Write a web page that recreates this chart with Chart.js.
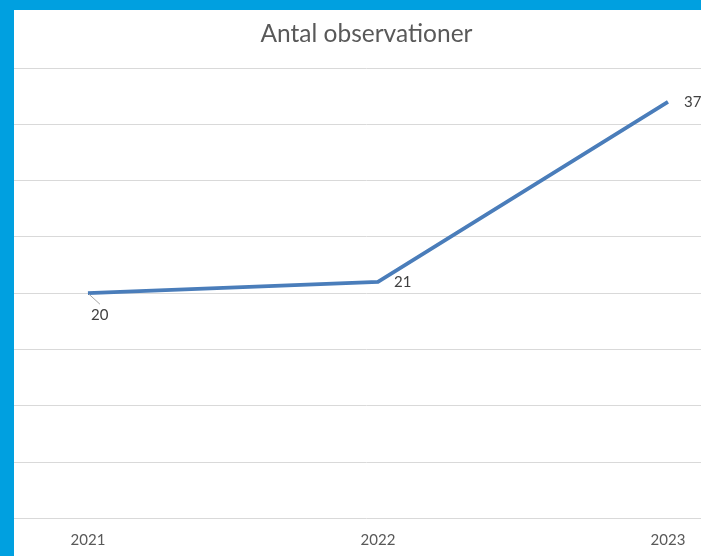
<!DOCTYPE html>
<html>
<head>
<meta charset="utf-8">
<script src="https://cdn.jsdelivr.net/npm/chart.js@4/dist/chart.umd.min.js"></script>
<style>
  html, body { margin: 0; padding: 0; width: 701px; height: 556px; overflow: hidden; background: #00A0E0; }
  #wrap { position: absolute; left: 14px; top: 10px; width: 705px; height: 559px; background: #ffffff; }
  canvas { display: block; }
</style>
</head>
<body>
<div id="wrap"><canvas id="c" width="705" height="559"></canvas></div>
<script>
const years = [2021, 2022, 2023];
const counts = [20, 21, 37];
const yTicks = [0, 5, 10, 15, 20, 25, 30, 35, 40];
const titleText = 'Antal observationer';

const labelPlugin = {
  id: 'valueLabels',
  afterDatasetsDraw(chart) {
    const ctx = chart.ctx;
    const meta = chart.getDatasetMeta(0);
    ctx.save();
    ctx.font = '15px Lato, "Open Sans", sans-serif';
    ctx.fillStyle = '#404040';
    ctx.textBaseline = 'middle';
    meta.data.forEach((pt, i) => {
      const v = counts[i];
      ctx.textAlign = 'left';
      if (i === 0) {
        ctx.strokeStyle = '#a6a6a6';
        ctx.lineWidth = 1;
        ctx.beginPath();
        ctx.moveTo(pt.x + 1, pt.y + 1);
        ctx.lineTo(pt.x + 12, pt.y + 11);
        ctx.stroke();
        ctx.fillText(String(v), pt.x + 3, pt.y + 22);
      } else {
        ctx.fillText(String(v), pt.x + 16, pt.y);
      }
    });
    ctx.restore();
  }
};

new Chart(document.getElementById('c'), {
  type: 'line',
  data: {
    datasets: [{
      data: years.map((y, i) => ({ x: y, y: counts[i] })),
      borderColor: '#4A7DBA',
      borderWidth: 3.8,
      pointRadius: 0,
      tension: 0,
      fill: false
    }]
  },
  options: {
    responsive: false,
    animation: false,
    events: [],
    layout: { padding: { left: 0, right: 0, top: 0, bottom: 8 } },
    plugins: {
      legend: { display: false },
      tooltip: { enabled: false },
      title: {
        display: true,
        text: titleText,
        color: '#595959',
        font: { family: 'Lato, "Open Sans", sans-serif', size: 24.5, weight: 'normal' },
        padding: { top: 9, bottom: 19.6 }
      }
    },
    scales: {
      x: {
        type: 'linear',
        min: 2020.745,
        max: 2023.176,
        grid: { display: false, drawTicks: false },
        border: { display: false },
        afterBuildTicks(scale) { scale.ticks = years.map(v => ({ value: v })); },
        ticks: {
          stepSize: 1,
          includeBounds: false,
          padding: 12.3,
          maxRotation: 0,
          color: '#595959',
          font: { family: 'Lato, "Open Sans", sans-serif', size: 15 },
          callback: (v) => String(v)
        }
      },
      y: {
        min: 0,
        max: 40,
        afterBuildTicks(scale) { scale.ticks = yTicks.map(v => ({ value: v })); },
        grid: { color: '#d9d9d9', lineWidth: 1, drawTicks: false },
        border: { display: false },
        ticks: { display: false }
      }
    }
  },
  plugins: [labelPlugin]
});
</script>
</body>
</html>
